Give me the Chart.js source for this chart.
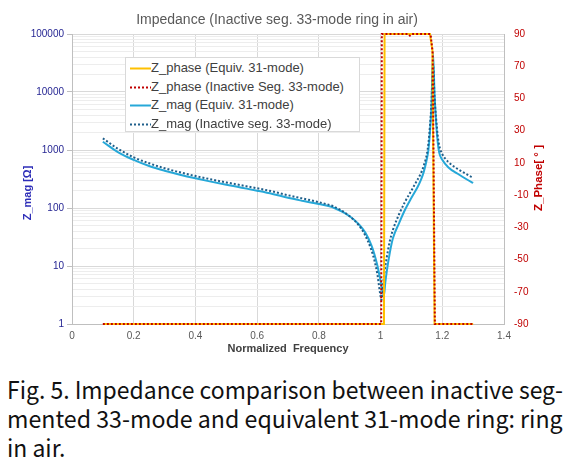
<!DOCTYPE html>
<html><head><meta charset="utf-8">
<script src="https://cdn.jsdelivr.net/npm/chart.js@4/dist/chart.umd.min.js"></script>
<style>
html,body{margin:0;padding:0;background:#fff;}
#wrap{position:relative;width:574px;height:470px;overflow:hidden;background:#fff;}
#chartBox{position:absolute;left:0;top:0;width:574px;height:362px;}
#legend{position:absolute;left:125px;top:57px;width:235px;height:75px;background:#fff;border:1px solid #d9d9d9;box-sizing:border-box;font:13px "Liberation Sans",Arial,sans-serif;color:#404040;}
.li{position:absolute;left:0;height:18px;line-height:18px;white-space:nowrap;}
.li svg{position:absolute;left:4px;top:8px;}
.li span{position:absolute;left:25px;top:0;}
.cap{position:absolute;left:7px;white-space:nowrap;font:24px "Noto Sans CJK KR","Liberation Sans",sans-serif;color:#111;transform-origin:0 0;line-height:1;}
</style></head>
<body><div id="wrap">
<div id="chartBox"><canvas id="c" width="574" height="362"></canvas></div>
<div id="legend"></div>
<div class="cap" id="cap1" style="top:377px">Fig. 5. Impedance comparison between inactive seg-</div>
<div class="cap" id="cap2" style="top:406px">mented 33-mode and equivalent 31-mode ring: ring</div>
<div class="cap" id="cap3" style="top:435px">in air.</div>
</div>
<script>
// ---- data ----
const seriesLabels = ['Z_phase (Equiv. 31-mode)', 'Z_phase (Inactive Seg. 33-mode)', 'Z_mag (Equiv. 31-mode)', 'Z_mag (Inactive seg. 33-mode)'];
const xTicks = [0, 0.2, 0.4, 0.6, 0.8, 1, 1.2, 1.4];
const magDecades = [1, 10, 100, 1000, 10000, 100000];
const phaseTicks = [-90, -70, -50, -30, -10, 10, 30, 50, 70, 90];

const freqPhase31 = [0.1, 1.011, 1.013, 1.16, 1.168, 1.175, 1.3];
const phase31 = [-90, -90, 90, 90, 80, -90, -90];
const freqPhase33 = [0.1, 1.002, 1.004, 1.09, 1.095, 1.1, 1.162, 1.169, 1.176, 1.3];
const phase33 = [-90, -90, 90, 90, 89, 90, 90, 78, -90, -90];

const freqMag31 = [0.1,0.15,0.2,0.25,0.3,0.35,0.4,0.45,0.5,0.55,0.6,0.65,0.7,0.75,0.8,0.85,0.9,0.93,0.95,0.97,0.98,0.99,1.0,1.005,1.011,1.015,1.02,1.03,1.04,1.06,1.08,1.1,1.12,1.13,1.14,1.15,1.155,1.16,1.165,1.17,1.175,1.18,1.185,1.19,1.2,1.22,1.25,1.28,1.3];
const zMag31 = [1390,910,675,530,440,375,325,285,252,224,199,175,150,132,117,100,72,52,38,23,16,10,5.5,4,3.1,5,8,17,30,55,95,150,230,300,420,700,1000,2000,6000,46000,9000,3000,1400,900,680,500,390,310,270];
const freqMag33 = [0.1,0.15,0.2,0.25,0.3,0.35,0.4,0.45,0.5,0.55,0.6,0.65,0.7,0.75,0.8,0.85,0.9,0.93,0.95,0.97,0.98,0.99,0.995,1.0,1.003,1.006,1.01,1.02,1.03,1.04,1.06,1.08,1.1,1.12,1.13,1.14,1.15,1.155,1.16,1.165,1.17,1.175,1.18,1.185,1.19,1.2,1.22,1.25,1.28,1.3];
const zMag33 = [1590,1040,748,590,485,412,356,312,276,246,219,193,166,145,126,105,72,50,34,19,12.5,7,4.5,3,2.6,3.5,6,14,27,42,78,130,200,310,390,540,850,1300,2600,6500,30000,8000,3500,1800,1200,850,620,470,380,330];

const colors = ['#ffc000', '#c00000', '#26a8d8', '#1f5f8b'];
const dashes = [[], [2, 2], [], [2, 2]];
const drawOrder = [1, 0, 3, 2];

// ---- build ----
const pts = (xs, ys) => xs.map((x, i) => ({x: x, y: ys[i]}));
const isDecade = v => Math.abs(Math.log10(v) - Math.round(Math.log10(v))) < 1e-9;
const FONT = '"Liberation Sans", Arial, sans-serif';

const datasets = [
  {label: seriesLabels[0], data: pts(freqPhase31, phase31), yAxisID: 'y1', tension: 0},
  {label: seriesLabels[1], data: pts(freqPhase33, phase33), yAxisID: 'y1', tension: 0},
  {label: seriesLabels[2], data: pts(freqMag31, zMag31), yAxisID: 'y', cubicInterpolationMode: 'monotone'},
  {label: seriesLabels[3], data: pts(freqMag33, zMag33), yAxisID: 'y', cubicInterpolationMode: 'monotone'}
].map((d, i) => Object.assign(d, {borderColor: colors[i], backgroundColor: colors[i], borderWidth: 2, borderDash: dashes[i],
  pointRadius: 0, fill: false, clip: 4, order: drawOrder[i]}));

const decor = {
  id: 'decor',
  afterDraw(chart) {
    const ctx = chart.ctx;
    ctx.save();
    ctx.textAlign = 'center';
    ctx.textBaseline = 'middle';
    ctx.fillStyle = '#595959';
    ctx.font = '14px ' + FONT;
    ctx.fillText('Impedance (Inactive seg. 33-mode ring in air)', 277, 20);
    ctx.fillStyle = '#404040';
    ctx.font = 'bold 11px ' + FONT;
    ctx.fillText('Normalized  Frequency', 288, 349);
    ctx.save();
    ctx.translate(28, 193);
    ctx.rotate(-Math.PI / 2);
    ctx.fillStyle = '#2e2eb8';
    ctx.font = 'bold 11px ' + FONT;
    ctx.fillText('Z_mag [\u03A9]', 0, 0);
    ctx.restore();
    ctx.save();
    ctx.translate(539, 178);
    ctx.rotate(-Math.PI / 2);
    ctx.fillStyle = '#c00000';
    ctx.font = 'bold 11.5px ' + FONT;
    ctx.fillText('Z_Phase[ \u00B0 ]', 0, 0);
    ctx.restore();
    ctx.restore();
  }
};

const chart = new Chart(document.getElementById('c'), {
  type: 'line',
  data: {datasets: datasets},
  plugins: [decor],
  options: {
    responsive: false,
    animation: false,
    layout: {padding: {top: 34, left: 0, right: 0, bottom: 0}},
    plugins: {legend: {display: false}, title: {display: false}, tooltip: {enabled: false}},
    scales: {
      x: {
        type: 'linear', min: 0, max: 1.4,
        afterBuildTicks: s => { s.ticks = xTicks.map(v => ({value: v})); },
        afterFit: s => { s.height = 38; },
        ticks: {color: '#595959', font: {size: 10, family: FONT}, padding: 6, maxRotation: 0, autoSkip: false,
                callback: v => String(+(+v).toFixed(1))},
        grid: {color: '#d9d9d9', drawTicks: false},
        border: {color: '#bfbfbf'}
      },
      y: {
        type: 'logarithmic', position: 'left', min: 1, max: 100000,
        afterBuildTicks: s => {
          const t = [];
          magDecades.forEach((d, i) => {
            if (i === magDecades.length - 1) { t.push({value: d}); return; }
            for (let k = 1; k < 10; k++) t.push({value: d * k});
          });
          s.ticks = t;
        },
        afterFit: s => { s.width = 72; },
        ticks: {color: '#262693', font: {size: 10, family: FONT}, padding: 3, autoSkip: false,
                callback: v => isDecade(v) ? String(Math.round(v)) : ''},
        grid: {
          color: c => (c.tick && isDecade(c.tick.value)) ? '#d9d9d9' : '#ededed',
          tickColor: c => (c.tick && isDecade(c.tick.value)) ? '#bfbfbf' : 'rgba(0,0,0,0)',
          tickLength: 5
        },
        border: {color: '#bfbfbf'}
      },
      y1: {
        type: 'linear', position: 'right', min: -90, max: 90,
        afterBuildTicks: s => { s.ticks = phaseTicks.map(v => ({value: v})); },
        afterFit: s => { s.width = 70; },
        ticks: {color: '#c00000', font: {size: 10, family: FONT}, padding: 10, autoSkip: false},
        grid: {drawOnChartArea: false, drawTicks: false},
        border: {color: '#bfbfbf'}
      }
    }
  }
});

// ---- HTML legend from datasets ----
const lg = document.getElementById('legend');
datasets.forEach((d, i) => {
  const row = document.createElement('div');
  row.className = 'li';
  row.style.top = (1 + 18.6 * i) + 'px';
  row.innerHTML = '<svg width="21" height="3"><line x1="0" y1="1.5" x2="21" y2="1.5" stroke="' + d.borderColor +
    '" stroke-width="2" ' + (d.borderDash.length ? 'stroke-dasharray="2,2"' : '') + '/></svg><span></span>';
  row.querySelector('span').textContent = d.label;
  lg.appendChild(row);
});

// ---- caption fitting ----
const c1 = document.getElementById('cap1'), c2 = document.getElementById('cap2'), c3 = document.getElementById('cap3');
const k1 = 556 / c1.offsetWidth, k2 = 556 / c2.offsetWidth;
c1.style.transform = 'scaleX(' + k1 + ')';
c2.style.transform = 'scaleX(' + k2 + ')';
c3.style.transform = 'scaleX(' + k1 + ')';
</script>
</body></html>
